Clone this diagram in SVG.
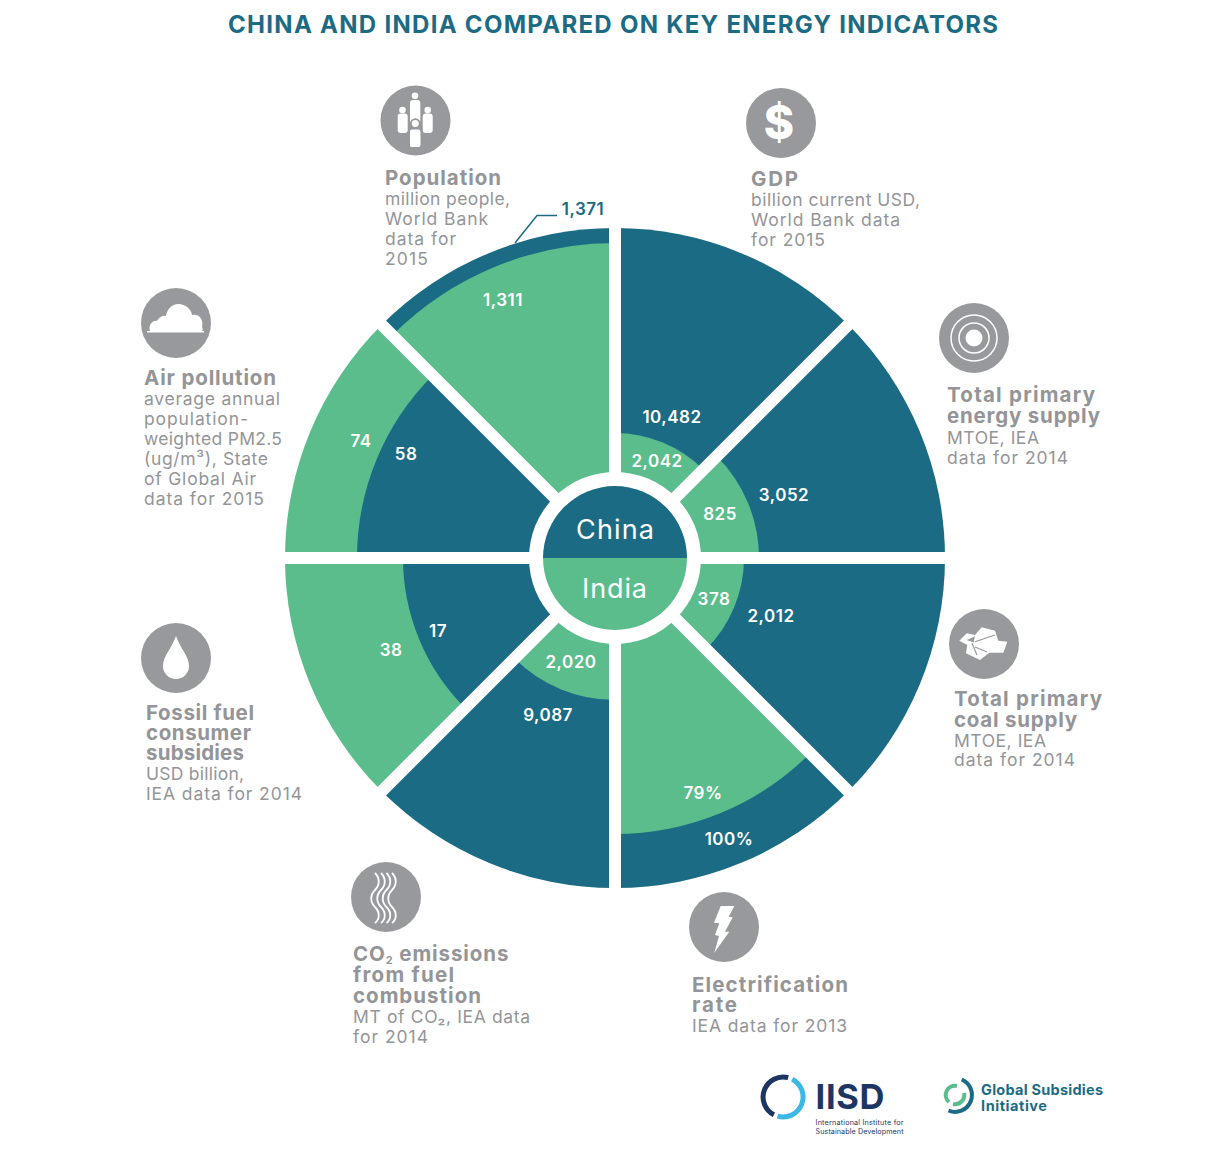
<svg xmlns="http://www.w3.org/2000/svg" width="1222" height="1162" viewBox="0 0 1222 1162">
<style>
text{font-family:"Inter","Liberation Sans",sans-serif}
.title{font-size:24px;font-weight:700;fill:#1c6b85}
.h{font-size:20.500px;font-weight:700;fill:#939598}
.s{font-size:17.500px;fill:#939598}
.v{font-size:17px;font-weight:600;fill:#fff;text-anchor:middle;letter-spacing:.5px}
.ic{fill:#98999c}
.w{fill:#fff}
.gap{stroke:#fff;stroke-width:12;fill:none}
.t{fill:#1c6b85}.g{fill:#5bbd8b}
</style>
<rect width="1222" height="1162" fill="#fff"/>
<text class="title" x="228" y="33" textLength="770">CHINA AND INDIA COMPARED ON KEY ENERGY INDICATORS</text>
<g id="wheel">
<path class="t" d="M615 558V228A330 330 0 0 1 848.300 324.700Z"/>
<path class="g" d="M615 558V433A125 125 0 0 1 703.400 469.600Z"/>
<path class="t" d="M615 558L848.300 324.700A330 330 0 0 1 945 558Z"/>
<path class="g" d="M615 558L716.800 456.200A144 144 0 0 1 759 558Z"/>
<path class="t" d="M615 558H945A330 330 0 0 1 848.300 791.300Z"/>
<path class="g" d="M615 558H744A129 129 0 0 1 706.200 649.200Z"/>
<path class="t" d="M615 558L848.300 791.300A330 330 0 0 1 615 888Z"/>
<path class="g" d="M615 558L810.200 753.200A276 276 0 0 1 615 834Z"/>
<path class="t" d="M615 558V888A330 330 0 0 1 381.700 791.300Z"/>
<path class="g" d="M615 558V700A142 142 0 0 1 514.600 658.400Z"/>
<path class="g" d="M615 558L381.700 791.300A330 330 0 0 1 285 558Z"/>
<path class="t" d="M615 558L465.100 707.900A212 212 0 0 1 403 558Z"/>
<path class="g" d="M615 558H285A330 330 0 0 1 381.700 324.700Z"/>
<path class="t" d="M615 558H357A258 258 0 0 1 432.600 375.600Z"/>
<path class="t" d="M615 558L381.700 324.700A330 330 0 0 1 615 228Z"/>
<path class="g" d="M615 558L392.300 335.300A315 315 0 0 1 615 243Z"/>
<path class="gap" d="M615 220V896M275 558H955M374 317L856 799M856 317L374 799"/>
<circle cx="615" cy="558" r="86" class="w"/>
<path class="t" d="M543 558A72 72 0 0 1 687 558Z"/>
<path class="g" d="M543 558A72 72 0 0 0 687 558Z"/>
</g>
<g id="center-labels">
<text x="576" y="539" font-size="27" fill="#fff" textLength="78">China</text>
<text x="582" y="598" font-size="27" fill="#fff" textLength="65">India</text>
</g>
<g id="values">
<text class="v" x="672" y="423">10,482</text><text class="v" x="657" y="467">2,042</text>
<text class="v" x="784" y="501">3,052</text><text class="v" x="720" y="520">825</text>
<text class="v" x="771" y="622">2,012</text><text class="v" x="714" y="605">378</text>
<text class="v" x="729" y="845">100%</text><text class="v" x="703" y="799">79%</text>
<text class="v" x="548" y="721">9,087</text><text class="v" x="571" y="668">2,020</text>
<text class="v" x="438" y="637">17</text><text class="v" x="391" y="656">38</text>
<text class="v" x="406" y="460">58</text><text class="v" x="361" y="447">74</text>
<text class="v" x="503" y="306">1,311</text>
<text class="v" x="583" y="215" style="fill:#1c6b85">1,371</text>
</g>
<g id="connectors"><path d="M515 243L537 215.500H557" fill="none" stroke="#1c6b85" stroke-width="1.500"/></g>
<g id="population">
<circle class="ic" cx="415.500" cy="120.500" r="35"/>
<g class="w"><circle cx="415" cy="95.700" r="3.300"/><rect x="410" y="100" width="10.300" height="24" rx="3"/><circle cx="402.500" cy="110" r="3.300"/><rect x="397.700" y="113.500" width="10" height="19.500" rx="3"/><circle cx="427.700" cy="110" r="3.300"/><rect x="422.700" y="113.500" width="10" height="19.500" rx="3"/><rect x="410" y="130" width="10.300" height="17" rx="2"/></g>
<circle cx="415.300" cy="123.500" r="5.300" class="ic"/><circle cx="415.300" cy="123.500" r="3.500" class="w"/>
<rect x="410" y="129.500" width="10.300" height="17.500" rx="2" class="w"/>
<text class="h" x="385" y="185" textLength="116">Population</text>
<text class="s" x="385" y="205" textLength="125">million people,</text><text class="s" x="385" y="225" textLength="103">World Bank</text><text class="s" x="385" y="245" textLength="71">data for</text><text class="s" x="385" y="265" textLength="43">2015</text>
</g>
<g id="gdp">
<circle class="ic" cx="781" cy="123" r="35"/>
<text x="779" y="139" text-anchor="middle" font-size="46" font-weight="800" fill="#fff">$</text>
<text class="h" x="751" y="186" textLength="47">GDP</text>
<text class="s" x="751" y="206" textLength="169">billion current USD,</text><text class="s" x="751" y="226" textLength="149">World Bank data</text><text class="s" x="751" y="246" textLength="74">for 2015</text>
</g>
<g id="tpes">
<circle class="ic" cx="974" cy="338" r="35"/>
<circle cx="974" cy="338" r="23" fill="none" stroke="#fff" stroke-width="1.500"/><circle cx="974" cy="338" r="15" fill="none" stroke="#fff" stroke-width="1.500"/><circle cx="974" cy="338" r="8.500" class="w"/>
<text class="h" x="947" y="402" textLength="148">Total primary</text><text class="h" x="947" y="423" textLength="153">energy supply</text>
<text class="s" x="947" y="444" textLength="92">MTOE, IEA</text><text class="s" x="947" y="464" textLength="121">data for 2014</text>
</g>
<g id="coal">
<circle class="ic" cx="984" cy="644" r="35"/>
<path class="w" d="M959.300 640.700L966.700 633.300L975 635L981.700 627.300L995 630.700L998.300 640.700L1007.300 641.700L1003.300 652.700L989.300 652.700L980 660L966 653.300L967.300 645Z"/>
<path d="M968.300 640L974 637.300L973.300 641.700ZM975 641.700L995 635M972 643.300L977 655M975 647L987 652" fill="#98999c" stroke="#98999c" stroke-width="1.200"/>
<text class="h" x="954" y="706" textLength="148">Total primary</text><text class="h" x="954" y="727" textLength="123">coal supply</text>
<text class="s" x="954" y="747" textLength="92">MTOE, IEA</text><text class="s" x="954" y="766" textLength="121">data for 2014</text>
</g>
<g id="electrification">
<circle class="ic" cx="724" cy="927" r="35"/>
<path class="w" d="M720.700 906L734.300 906L728.700 916.700L732.700 917.300L725 931.700L729.300 931.700L714.300 952.700L719 936L715 935L719.300 923.300L714 922.700Z"/>
<text class="h" x="692" y="992" textLength="156">Electrification</text><text class="h" x="692" y="1012" textLength="45">rate</text>
<text class="s" x="692" y="1032" textLength="155">IEA data for 2013</text>
</g>
<g id="co2">
<circle class="ic" cx="386" cy="897" r="35"/>
<path d="M375 873c5 5 5 12 0 17c-5 5 -5 12 0 17c5 5 5 12 0 16M381 873c5 5 5 12 0 17c-5 5 -5 12 0 17c5 5 5 12 0 16M386.500 873c5 5 5 12 0 17c-5 5 -5 12 0 17c5 5 5 12 0 16M392 873c5 5 5 12 0 17c-5 5 -5 12 0 17c5 5 5 12 0 16" fill="none" stroke="#fff" stroke-width="1.800"/>
<text class="h" x="353" y="961" letter-spacing="0.900">CO<tspan font-size="11" dy="3">2</tspan><tspan dy="-3"> emissions</tspan></text>
<text class="h" x="353" y="982" textLength="101">from fuel</text><text class="h" x="353" y="1003" textLength="128">combustion</text>
<text class="s" x="353" y="1023" textLength="177">MT of CO₂, IEA data</text><text class="s" x="353" y="1043" textLength="75">for 2014</text>
</g>
<g id="fossil">
<circle class="ic" cx="176" cy="658" r="35"/>
<path class="w" d="M176 636C172 648 163 656 163 666A13 13 0 0 0 189 666C189 656 180 648 176 636Z"/>
<text class="h" x="146" y="720" textLength="108">Fossil fuel</text><text class="h" x="146" y="740" textLength="105">consumer</text><text class="h" x="146" y="760" textLength="98">subsidies</text>
<text class="s" x="146" y="780" textLength="98">USD billion,</text><text class="s" x="146" y="800" textLength="156">IEA data for 2014</text>
</g>
<g id="air">
<circle class="ic" cx="176" cy="323" r="35"/>
<path class="w" d="M150 331C148 325 153 320 157 321C159 317 163 315 166 316C167 309 172 304 178 304C186 304 191 309 192 315C199 313 204 320 202 327C203 329 203 330 202 331Z"/>
<rect class="w" x="147" y="331" width="57" height="1.500"/>
<text class="h" x="144" y="385" textLength="132">Air pollution</text>
<text class="s" x="144" y="405" textLength="136">average annual</text><text class="s" x="144" y="425" textLength="104">population-</text><text class="s" x="144" y="445" textLength="138">weighted PM2.5</text><text class="s" x="144" y="465" textLength="124">(ug/m³), State</text><text class="s" x="144" y="485" textLength="112">of Global Air</text><text class="s" x="144" y="505" textLength="120">data for 2015</text>
</g>
<g id="iisd-logo">
<path d="M788.200 1077.700A20 20 0 0 0 773.900 1114.800" fill="none" stroke="#1d3563" stroke-width="5"/>
<path d="M792.200 1079.200A20 20 0 0 1 777.500 1116.200" fill="none" stroke="#3cb8e4" stroke-width="5"/>
<text x="815.500" y="1109.300" font-size="34.500" font-weight="700" fill="#1d3563" textLength="69">IISD</text>
<text x="815.500" y="1125" font-size="7.200" fill="#1d3563" textLength="88">International Institute for</text>
<text x="815.500" y="1134" font-size="7.200" fill="#1d3563" textLength="88">Sustainable Development</text>
</g>
<g id="gsi-logo">
<path d="M961.700 1079.500A16.500 16.500 0 0 1 948.500 1110.500" fill="none" stroke="#1c6b85" stroke-width="4"/>
<path d="M957 1086A9.200 9.200 0 0 0 949 1102M964 1093A9.200 9.200 0 0 1 953 1104" fill="none" stroke="#5bbd8b" stroke-width="4"/>
<text x="981" y="1095" font-size="14.500" font-weight="700" fill="#1c6b85" textLength="122">Global Subsidies</text>
<text x="981" y="1111" font-size="14.500" font-weight="700" fill="#1c6b85" textLength="66">Initiative</text>
</g>
</svg>
